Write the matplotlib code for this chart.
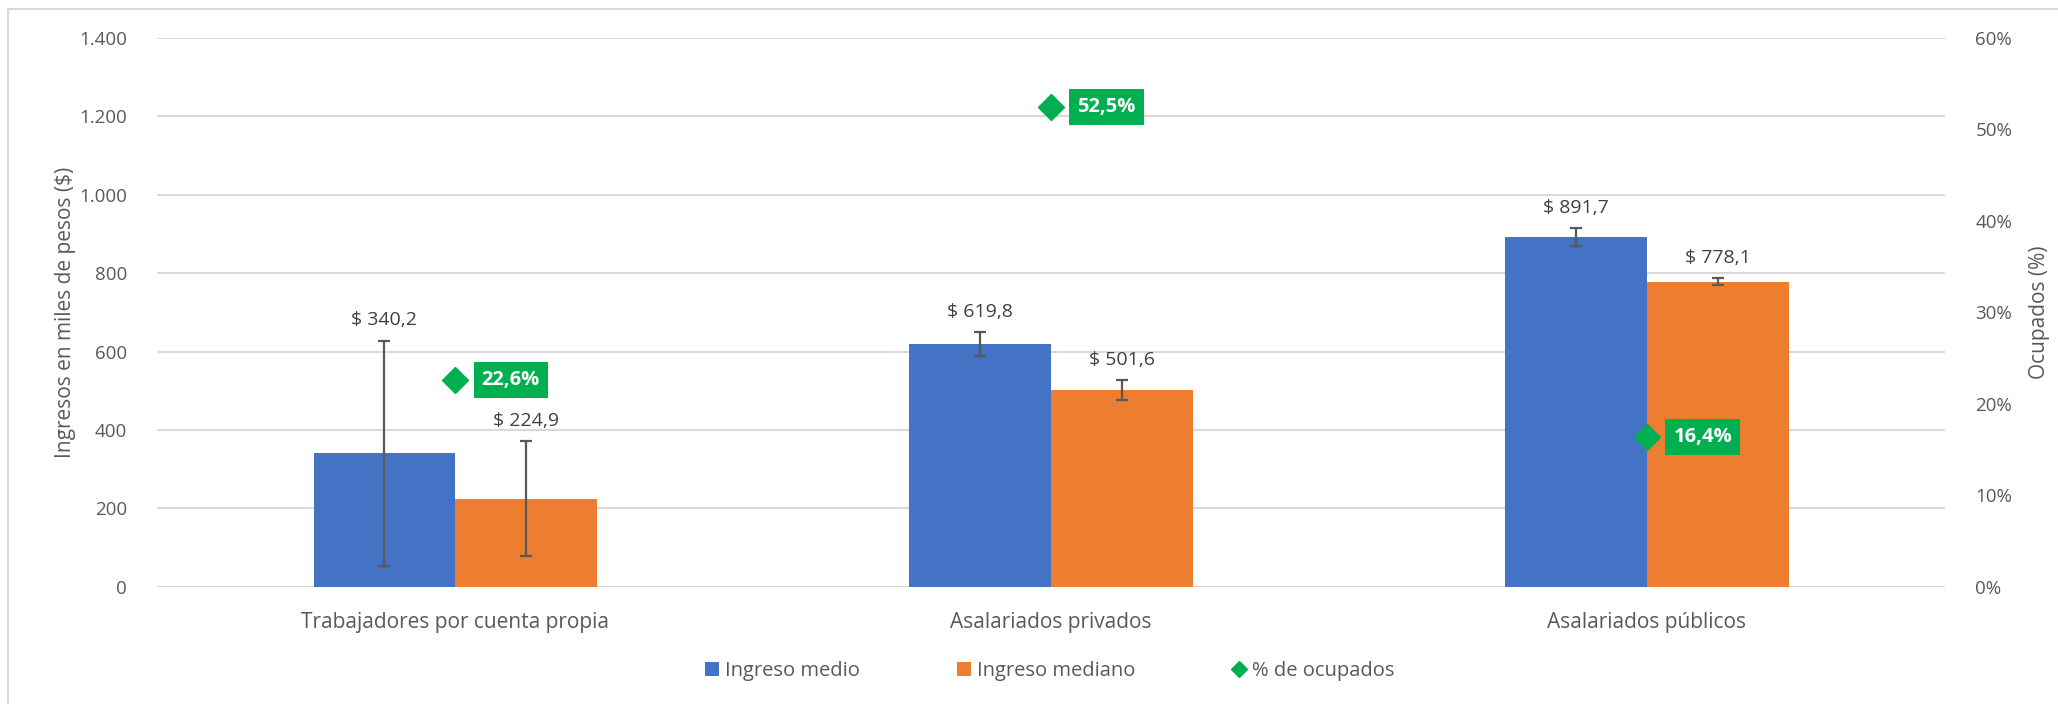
import matplotlib.pyplot as plt
import numpy as np
from matplotlib.patches import Rectangle

plt.rcParams['font.family'] = ['Open Sans', 'DejaVu Sans']

# Datos
categorias = ["Trabajadores por cuenta propia", "Asalariados privados", "Asalariados públicos"]
ingreso_medio = [340.2, 619.8, 891.7]
ingreso_mediano = [224.9, 501.6, 778.1]
err_medio = [288, 30, 23]
err_mediano = [146, 25, 9]
pct_ocupados = [22.6, 52.5, 16.4]

azul = "#4472c4"
naranja = "#ed7d31"
verde = "#00b050"
gris = "#595959"

fig = plt.figure(figsize=(20.58, 7.04), dpi=100)
ax = fig.add_axes([0.0765, 0.1666, 0.8685, 0.7794])

x = np.arange(len(categorias))
w = 0.238

ax.bar(x - w / 2, ingreso_medio, w, color=azul, label="Ingreso medio", zorder=2)
ax.bar(x + w / 2, ingreso_mediano, w, color=naranja, label="Ingreso mediano", zorder=2)
ax.errorbar(x - w / 2, ingreso_medio, yerr=err_medio, fmt="none", ecolor=gris,
            elinewidth=1.6, capsize=4.5, capthick=1.6, zorder=3)
ax.errorbar(x + w / 2, ingreso_mediano, yerr=err_mediano, fmt="none", ecolor=gris,
            elinewidth=1.6, capsize=4.5, capthick=1.6, zorder=3)

# Etiquetas de las barras
for xi, v, e in zip(x - w / 2, ingreso_medio, err_medio):
    ax.annotate("$ " + f"{v:.1f}".replace(".", ","), (xi, v + e), xytext=(0, 8),
                textcoords="offset points", ha="center", va="bottom", fontsize=14, color="#404040")
for xi, v, e in zip(x + w / 2, ingreso_mediano, err_mediano):
    ax.annotate("$ " + f"{v:.1f}".replace(".", ","), (xi, v + e), xytext=(0, 8),
                textcoords="offset points", ha="center", va="bottom", fontsize=14, color="#404040")

ax.set_xlim(-0.5, 2.5)
ax.set_ylim(0, 1400)
ax.set_yticks(range(0, 1401, 200))
ax.set_yticklabels(["0", "200", "400", "600", "800", "1.000", "1.200", "1.400"])
ax.set_xticks(x)
ax.set_xticklabels(categorias)
ax.tick_params(axis="both", length=0, labelsize=13.5, colors=gris)
ax.tick_params(axis="x", pad=18, labelsize=15)
ax.tick_params(axis="y", pad=22)
ax.grid(axis="y", color="#d9d9d9", linewidth=1.5, zorder=0)
ax.set_axisbelow(True)
for s in ax.spines.values():
    s.set_visible(False)
ax.set_ylabel("Ingresos en miles de pesos ($)", fontsize=15, color=gris, labelpad=2)

# Eje secundario
ax2 = ax.twinx()
ax2.set_ylim(0, 60)
ax2.set_yticks(range(0, 61, 10))
ax2.set_yticklabels([f"{t}%" for t in range(0, 61, 10)])
ax2.tick_params(axis="y", length=0, labelsize=13.5, colors=gris, pad=22)
for s in ax2.spines.values():
    s.set_visible(False)
ax2.set_ylabel("Ocupados (%)", fontsize=15, color=gris, labelpad=12)

ax2.plot(x, pct_ocupados, linestyle="none", marker="D", markersize=13,
         color=verde, label="% de ocupados", zorder=4)
for xi, p in zip(x, pct_ocupados):
    ax2.annotate(f"{p:.1f}%".replace(".", ","), (xi, p), xytext=(19, 0),
                 textcoords="offset points", ha="left", va="center", fontsize=14.5,
                 fontweight="bold", color="white",
                 bbox=dict(boxstyle="square,pad=0.4", fc=verde, ec="none"))

# Leyenda
h1, l1 = ax.get_legend_handles_labels()
h2, l2 = ax2.get_legend_handles_labels()
leg = fig.legend(h1 + h2, l1 + l2, loc="center", bbox_to_anchor=(0.51, 0.047), ncol=3,
                 frameon=False, fontsize=14.5, handlelength=0.7, handleheight=0.7,
                 handletextpad=0.3, columnspacing=4.8, markerscale=0.6)
for t in leg.get_texts():
    t.set_color(gris)

# Marco del gráfico
fig.patches.append(Rectangle((8 / 2058, -0.1), 1.2, 1.1 - 9 / 704, transform=fig.transFigure,
                             fill=False, ec="#d9d9d9", lw=1.5))

fig.savefig("out.png", dpi=100)
